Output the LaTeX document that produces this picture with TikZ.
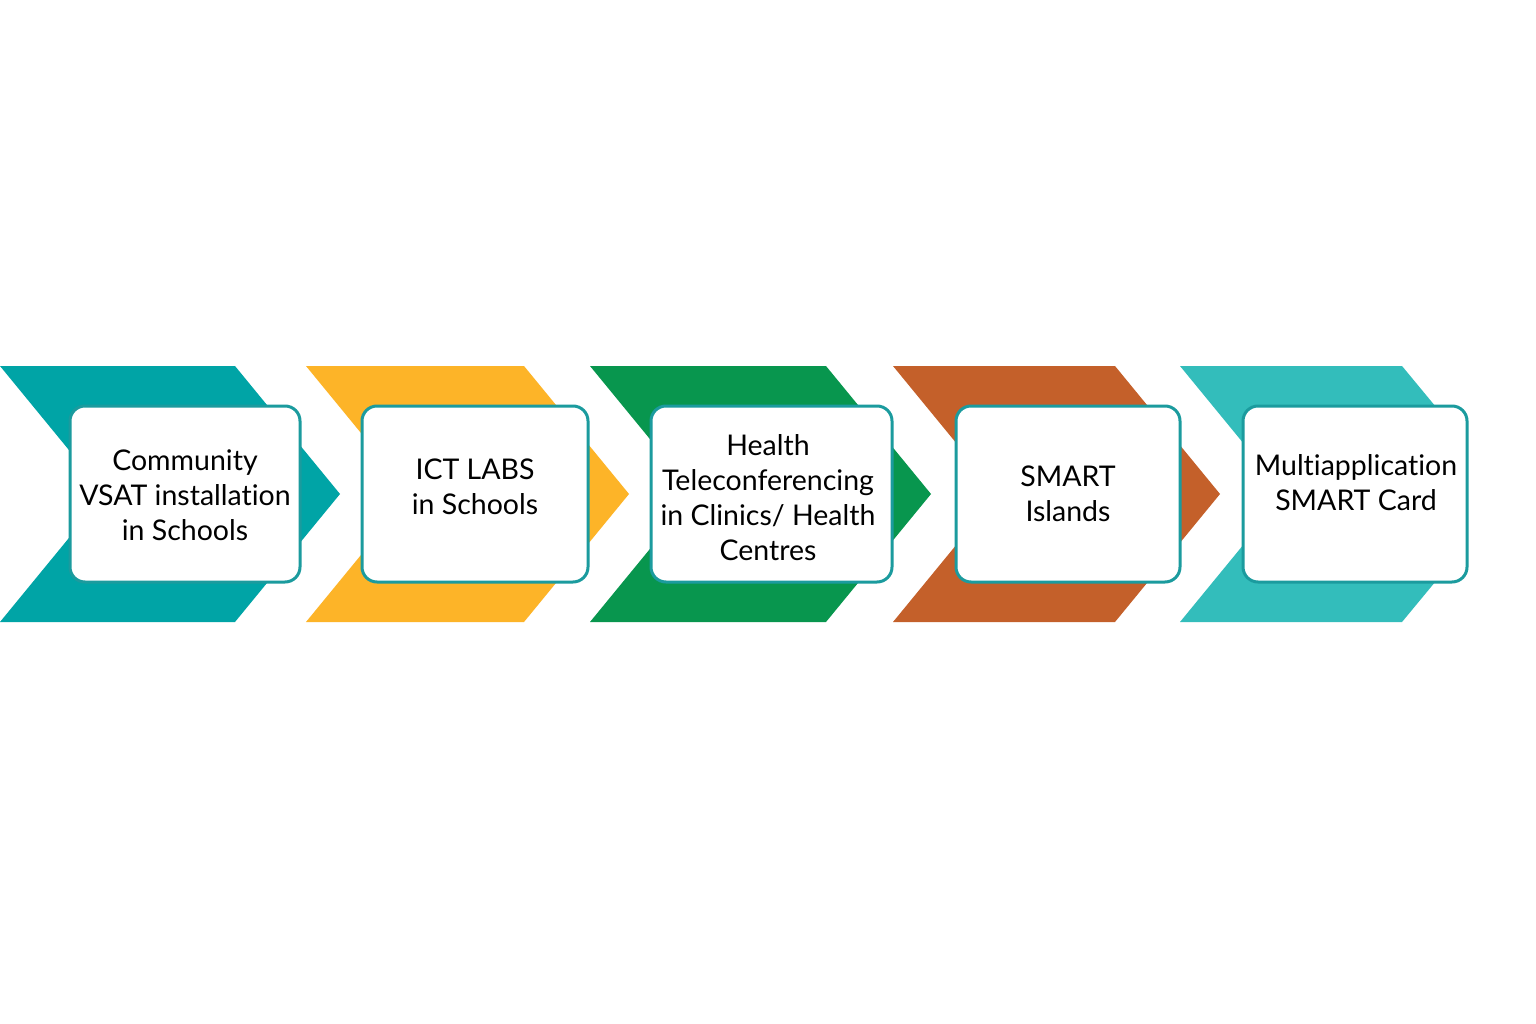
\documentclass[tikz,border=0pt]{standalone}
\usepackage{fontspec}
\setmainfont{Lato}[Ligatures={NoCommon}]
\usepackage{tikz}
\usetikzlibrary{positioning,calc}

\definecolor{stepTeal}{HTML}{00A4A6}
\definecolor{stepYellow}{HTML}{FDB428}
\definecolor{stepGreen}{HTML}{08964E}
\definecolor{stepOrange}{HTML}{C4602A}
\definecolor{stepAqua}{HTML}{33BDBB}
\definecolor{boxBorder}{HTML}{1B9B9E}

\begin{document}
\begin{tikzpicture}[x=1pt,y=-1pt]

    \tikzstyle{stage}=[rectangle, rounded corners=15pt, draw=boxBorder, line width=3pt, fill=white, minimum height=176pt]
    \tikzstyle{caption}=[align=center, font=\fontsize{28.5}{35}\selectfont, text=black]

    % Canvas
    \useasboundingbox (0,0) rectangle (1536,1024);
    \fill[white] (0,0) rectangle (1536,1024);

    \begin{scope}
        % Chevron geometry
        \def \top {366}
        \def \bot {622}
        \def \mid {494}
        \def \tip {105}

        % Chevrons
        \fill[stepTeal]   (0,\top) -- (235,\top) -- (235+\tip,\mid) -- (235,\bot) -- (0,\bot) -- (\tip,\mid) -- cycle;
        \fill[stepYellow] (306,\top) -- (524,\top) -- (524+\tip,\mid) -- (524,\bot) -- (306,\bot) -- (306+\tip,\mid) -- cycle;
        \fill[stepGreen]  (590,\top) -- (826,\top) -- (826+\tip,\mid) -- (826,\bot) -- (590,\bot) -- (590+\tip,\mid) -- cycle;
        \fill[stepOrange] (893,\top) -- (1115,\top) -- (1115+\tip,\mid) -- (1115,\bot) -- (893,\bot) -- (893+\tip,\mid) -- cycle;
        \fill[stepAqua]   (1180,\top) -- (1402,\top) -- (1450,424) -- (1450,564) -- (1402,\bot) -- (1180,\bot) -- (1180+\tip,\mid) -- cycle;

        % Boxes
        \node at (185,494)   [stage, minimum width=230pt] (VSAT)  {};
        \node at (475,494)   [stage, minimum width=226pt] (ICT)   {};
        \node at (771.5,494) [stage, minimum width=241pt] (TELE)  {};
        \node at (1068,494)  [stage, minimum width=224pt] (ISL)   {};
        \node at (1355,494)  [stage, minimum width=224pt] (CARD)  {};

        % Texts
        \node at (185,495)  [caption] (VSATtxt) {Community\\VSAT installation\\in Schools};
        \node at (475,487)  [caption] (ICTtxt)  {ICT LABS\\in Schools};
        \node at (768,498)  [caption] (TELEtxt) {Health\\Teleconferencing\\in Clinics/ Health\\Centres};
        \node at (1068,494) [caption] (ISLtxt)  {SMART\\Islands};
        \node at (1356,483) [caption] (CARDtxt) {Multiapplication\\SMART Card};
    \end{scope}
\end{tikzpicture}
\end{document}
